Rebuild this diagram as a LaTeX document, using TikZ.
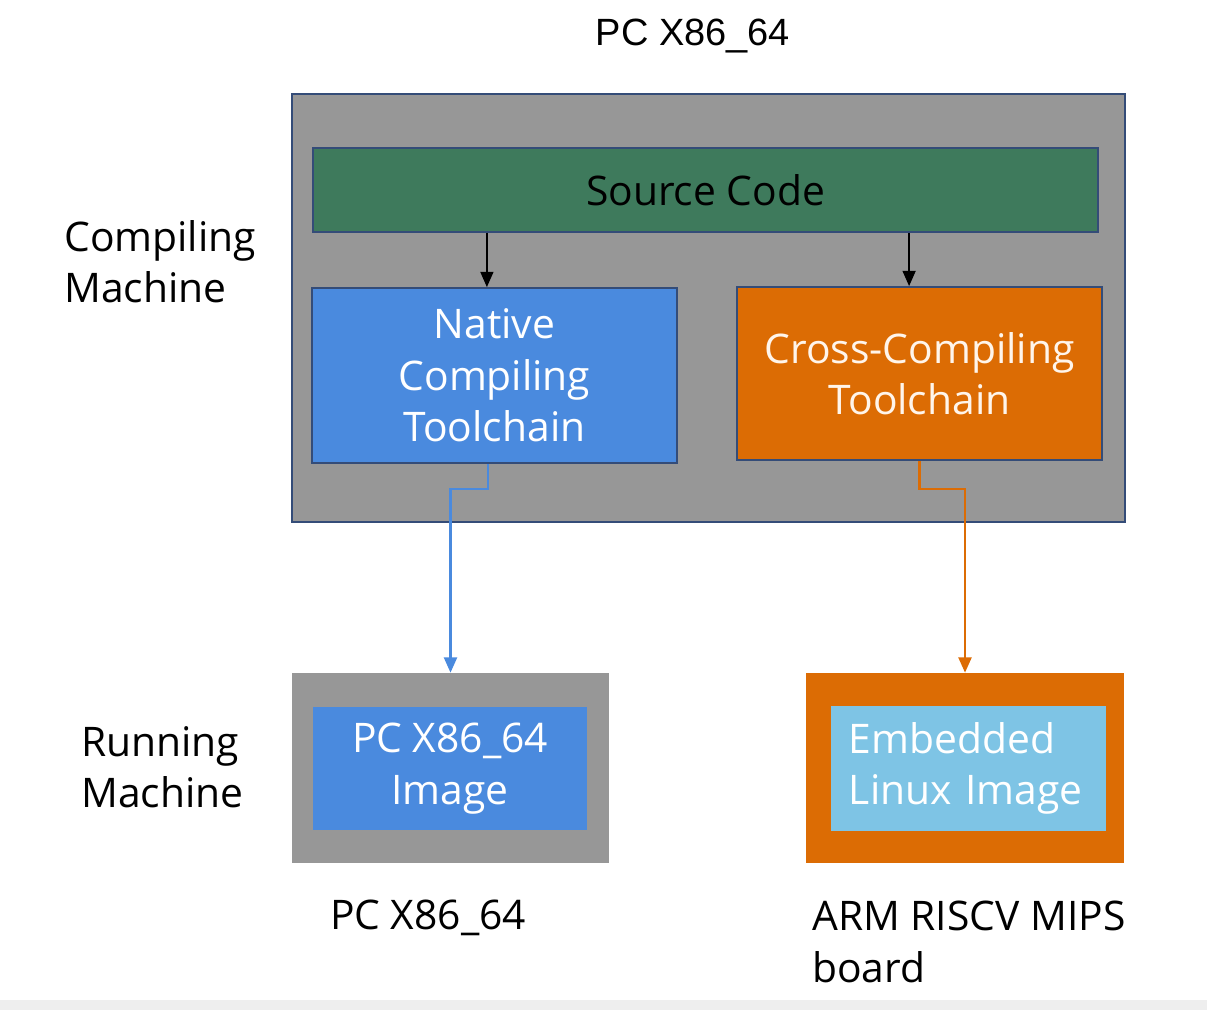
\documentclass[tikz,border=0pt]{standalone}
\usepackage{fontspec}
\setmainfont{Open Sans}
\newfontfamily\titlefont{Liberation Sans}
\usetikzlibrary{arrows.meta}

\definecolor{machinegray}{RGB}{151,151,151}
\definecolor{frameblue}{RGB}{52,76,120}
\definecolor{srcgreen}{RGB}{62,122,92}
\definecolor{toolblue}{RGB}{74,138,222}
\definecolor{crossorange}{RGB}{220,108,4}
\definecolor{imgcyan}{RGB}{126,196,229}
\definecolor{stripgray}{RGB}{238,238,238}

\begin{document}
\begin{tikzpicture}[x=0.025cm, y=-0.025cm]
            \tikzset{
                bigtext/.style={font=\fontsize{29}{36.5}\selectfont},
                box/.style={bigtext, inner sep=0pt, align=center},
                toolbox/.style={box, draw=frameblue, line width=1.2pt},
                flow/.style={line width=1.8pt, -{Triangle[length=0.38cm, width=0.32cm]}}
            }

            \useasboundingbox (0,0) rectangle (1207,1010);
            \fill[stripgray] (0,1000) rectangle (1207,1010);

            \node[font=\titlefont\fontsize{27}{32}\selectfont] (title) at (693,36) {PC X86\_64};

            \node[toolbox, fill=machinegray, minimum width=20.825cm, minimum height=10.7cm]
                (compiler) at (708.5,308) {};
            \node[toolbox, fill=srcgreen, text=black, minimum width=19.625cm, minimum height=2.1cm]
                (src) at (705.5,190) {Source Code};
            \node[toolbox, fill=toolblue, text=white, minimum width=9.125cm, minimum height=4.375cm]
                (native) at (494.5,375.5) {Native\\Compiling\\Toolchain};
            \node[toolbox, fill=crossorange, text=white!92!orange, minimum width=9.125cm, minimum height=4.325cm]
                (cross) at (919.5,373.5) {Cross-Compiling\\Toolchain};

            \node[box, fill=machinegray, minimum width=7.925cm, minimum height=4.75cm]
                (pcbox) at (450.5,768) {};
            \node[box, fill=toolblue, text=white, minimum width=6.85cm, minimum height=3.075cm]
                (pcimg) at (450,768.5) {PC X86\_64\\Image};
            \node[box, fill=crossorange, minimum width=7.95cm, minimum height=4.75cm]
                (armbox) at (965,768) {};
            \node[box, fill=imgcyan, text=white, align=left, text width=5.975cm, inner xsep=0.45cm,
                minimum height=3.125cm]
                (armimg) at (968.5,768.5) {Embedded\\Linux Image};

            \node[bigtext, anchor=west, align=left, inner sep=0pt] (compiling) at (64,262)
                {Compiling\\Machine};
            \node[bigtext, anchor=west, align=left, inner sep=0pt] (running) at (81,767)
                {Running\\Machine};
            \node[bigtext, inner sep=0pt] (pclabel) at (428,918) {PC X86\_64};
            \node[bigtext, anchor=west, align=left, inner sep=0pt] (armlabel) at (812,942)
                {ARM RISCV MIPS\\board};

            \foreach \tool/\shift in {native/-0.19cm, cross/-0.26cm} {
                \draw[flow, black, line width=1.4pt] ([xshift=\shift]\tool.north |- src.south) -- ([xshift=\shift]\tool.north);
            }

            \draw[flow, toolblue] ([xshift=-0.16cm]native.south) -- ++(0,25) -| (pcbox.north);
            \draw[flow, crossorange] (cross.south) -- ++(0,28) -| (armbox.north);
        \end{tikzpicture}
\end{document}
